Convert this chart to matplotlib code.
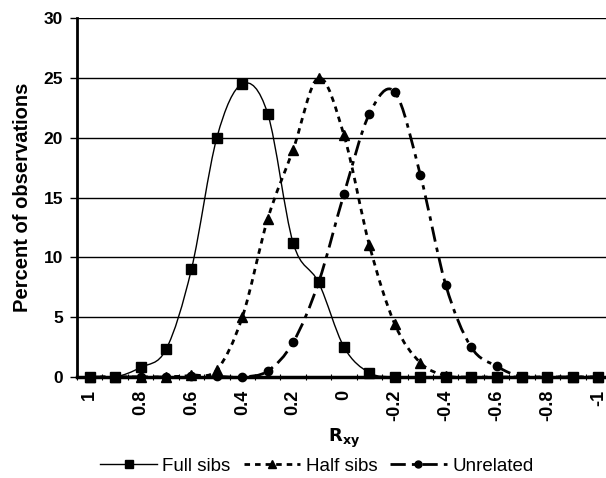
import numpy as np
import matplotlib
matplotlib.use("Agg")
import matplotlib.pyplot as plt
from matplotlib.path import Path
from matplotlib.patches import PathPatch
from matplotlib.lines import Line2D

plt.rcParams['font.family'] = ['Liberation Sans', 'DejaVu Sans']

# R_xy categories, from 1 down to -1
rxy = ['1', '0.9', '0.8', '0.7', '0.6', '0.5', '0.4', '0.3', '0.2', '0.1', '0',
       '-0.1', '-0.2', '-0.3', '-0.4', '-0.5', '-0.6', '-0.7', '-0.8', '-0.9', '-1']
full_sibs = [0, 0, 0.8, 2.3, 9.0, 20.0, 24.5, 22.0, 11.2, 7.9, 2.5,
             0.35, 0, 0, 0, 0, 0, 0, 0, 0, 0]
half_sibs = [0, 0, 0, 0, 0.15, 0.6, 5.0, 13.2, 19.0, 25.0, 20.2,
             11.0, 4.4, 1.2, 0.1, 0, 0, 0, 0, 0, 0]
unrelated = [0, 0, 0, 0, 0.05, 0.05, 0, 0.5, 2.9, 7.9, 15.3,
             22.0, 23.8, 16.9, 7.7, 2.5, 0.9, 0, 0, 0, 0]


def smooth_path(x, y, t=1/6):
    # bezier path through the points, like a spreadsheet "smoothed line"
    pts = np.column_stack([x, y]).astype(float)
    verts = [pts[0]]
    codes = [Path.MOVETO]
    n = len(pts)
    for i in range(n - 1):
        p0 = pts[i - 1] if i > 0 else pts[i]
        p1 = pts[i]
        p2 = pts[i + 1]
        p3 = pts[i + 2] if i + 2 < n else pts[i + 1]
        c1 = p1 + (p2 - p0) * t
        c2 = p2 - (p3 - p1) * t
        verts += [c1, c2, p2]
        codes += [Path.CURVE4] * 3
    return Path(verts, codes)


fig = plt.figure(figsize=(6.06, 4.78), dpi=100)
ax = fig.add_axes([77 / 606, 1 - 377 / 478, (611 - 77) / 606, (377 - 18) / 478])

xs = np.arange(len(rxy))
series = [
    (full_sibs, 's', 'Full sibs', 1.0, None, 6.5),
    (half_sibs, '^', 'Half sibs', 2.0, (2.0, 1.8), 7),
    (unrelated, 'o', 'Unrelated', 2.0, (5.5, 2.2, 1.6, 2.2), 6),
]
handles = []
for ys, mk, name, lw, dash, ms in series:
    ls = '-' if dash is None else (0, dash)
    patch = PathPatch(smooth_path(xs, ys), fill=False, edgecolor='black',
                      linewidth=lw, linestyle=ls, zorder=3)
    ax.add_patch(patch)
    ax.plot(xs, ys, linestyle='none', marker=mk, markersize=ms,
            color='black', clip_on=False, zorder=4)
    handles.append(Line2D([], [], color='black', linewidth=lw, linestyle=ls,
                          marker=mk, markersize=ms - 1))

ax.set_xlim(-0.5, len(rxy) - 0.5)
ax.set_ylim(0, 30)
ax.set_yticks(range(0, 31, 5))
ax.yaxis.grid(True, color='black', linewidth=1.0)
ax.set_axisbelow(True)

ax.set_xticks(xs[::2])
ax.set_xticklabels(rxy[::2], rotation=90, fontweight='bold', fontsize=13)
ax.set_xticks(np.arange(-0.5, len(rxy)), minor=True)
ax.tick_params(axis='x', which='major', length=0, pad=9)
ax.tick_params(axis='x', which='minor', length=5, direction='inout', width=0.8)
ax.tick_params(axis='y', length=5, width=1, labelsize=12.5, pad=5)
for lab in ax.get_yticklabels():
    lab.set_fontweight('bold')

for s in ['top', 'right']:
    ax.spines[s].set_visible(False)
ax.spines['left'].set_linewidth(2)
ax.spines['bottom'].set_linewidth(2.5)

ax.set_ylabel('Percent of observations', fontsize=14.5, fontweight='bold', labelpad=8)
ax.set_xlabel(r'$\mathbf{R_{xy}}$', fontsize=13, labelpad=4)

fig.legend(handles, [s[2] for s in series], loc='center',
           bbox_to_anchor=(317 / 606, 1 - 466 / 478), ncol=3, frameon=False,
           fontsize=13.5, handlelength=3.0, columnspacing=0.7,
           handletextpad=0.3, borderpad=0)

fig.savefig('out.png', dpi=100)
